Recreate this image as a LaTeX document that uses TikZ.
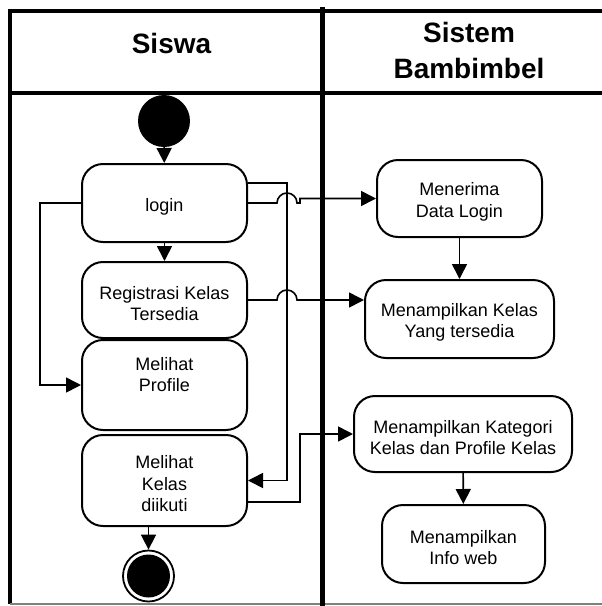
\documentclass[tikz,border=0pt]{standalone}
\usepackage{fontspec}
\setmainfont{Liberation Sans}
\usetikzlibrary{arrows.meta}

\begin{document}
\begin{tikzpicture}[x=1pt,y=-1pt,
  frameline/.style={line width=4.5pt},
  act/.style={draw,line width=2pt,rounded corners=21pt,inner sep=0pt},
  acttext/.style={align=center,font=\fontsize{18}{21.5}\selectfont,inner sep=0pt,yshift=-3.5pt},
  conn/.style={line width=1.6pt},
  arr/.style={conn,-{Triangle[length=15pt,width=15pt]}},
  lanehead/.style={font=\bfseries\fontsize{28}{36}\selectfont,align=center}]
\useasboundingbox (0,0) rectangle (602,606);

% swimlane frame
\draw[frameline] (10,8.5) -- (10,604);
\draw[frameline] (7.75,10.8) -- (602,10.8);
\draw[frameline] (7.75,93) -- (602,93);
\draw[gray,line width=1.5pt] (10,604) -- (602,604);
\draw[line width=5pt] (322.5,7) -- (322.5,606);

\node[lanehead] (siswa) at (171.5,43) {Siswa};
\node[lanehead] (sistem) at (469,50) {Sistem\\Bambimbel};

% activities of the student lane
\node[circle,fill,minimum size=52pt,inner sep=0pt] (start) at (164,121) {};
\node[act,minimum width=165pt,minimum height=78pt] (login) at (164.5,203) {};
\node[act,minimum width=165pt,minimum height=76pt] (reg) at (164.5,300) {};
\node[act,minimum width=165pt,minimum height=90pt] (profile) at (164.5,385) {};
\node[act,minimum width=165pt,minimum height=91pt] (kelas) at (164.5,480.5) {};
\node[circle,draw,line width=1.8pt,minimum size=51pt,inner sep=0pt] (end) at (148.5,576) {};
\fill (end.center) circle (21.5pt);

\node[acttext] (login-t) at (login) {login};
\node[acttext] (reg-t) at (reg) {Registrasi Kelas\\Tersedia};
\node[acttext] (profile-t) at (profile) {Melihat\\Profile\\\strut};
\node[acttext] (kelas-t) at (kelas) {Melihat\\Kelas\\diikuti};

% activities of the system lane
\node[act,minimum width=165pt,minimum height=77pt] (terima) at (459.5,198.5) {};
\node[act,minimum width=189pt,minimum height=78pt] (tampil) at (459.5,319) {};
\node[act,minimum width=218pt,minimum height=76pt] (kategori) at (463,434) {};
\node[act,minimum width=163pt,minimum height=78pt] (info) at (463.5,544) {};

\node[acttext] (terima-t) at (terima) {Menerima\\Data Login};
\node[acttext] (tampil-t) at (tampil) {Menampilkan Kelas\\Yang tersedia};
\node[acttext] (kategori-t) at (kategori) {Menampilkan Kategori\\Kelas dan Profile Kelas};
\node[acttext] (info-t) at (info) {Menampilkan\\Info web};

% flows
\draw[arr] (start) -- (login);
\draw[arr] (login) -- (reg);
\draw[arr] (login.west) -- ++(-41,0) |- (profile.west);
\draw[arr] (login.east |- 0,183) -- (287,183) -- (287,480.5) -- (kelas.east);
\draw[arr] (login.east) -- (277,203) arc[start angle=180,end angle=360,radius=10]
  -- (300,203) -- (300,198.5) -- (terima.west);
\draw[arr] (reg.east) -- (277,300) arc[start angle=180,end angle=360,radius=10]
  -- (300,300) -- (tampil.west |- reg.east);
\draw[arr] (kelas.east |- 0,502) -- (300,502) -- (300,434) -- (kategori.west);
\draw[arr] (kelas.south -| end) -- (end);
\draw[arr] (terima) -- (tampil);
\draw[arr] (kategori) -- (info);
\end{tikzpicture}
\end{document}
